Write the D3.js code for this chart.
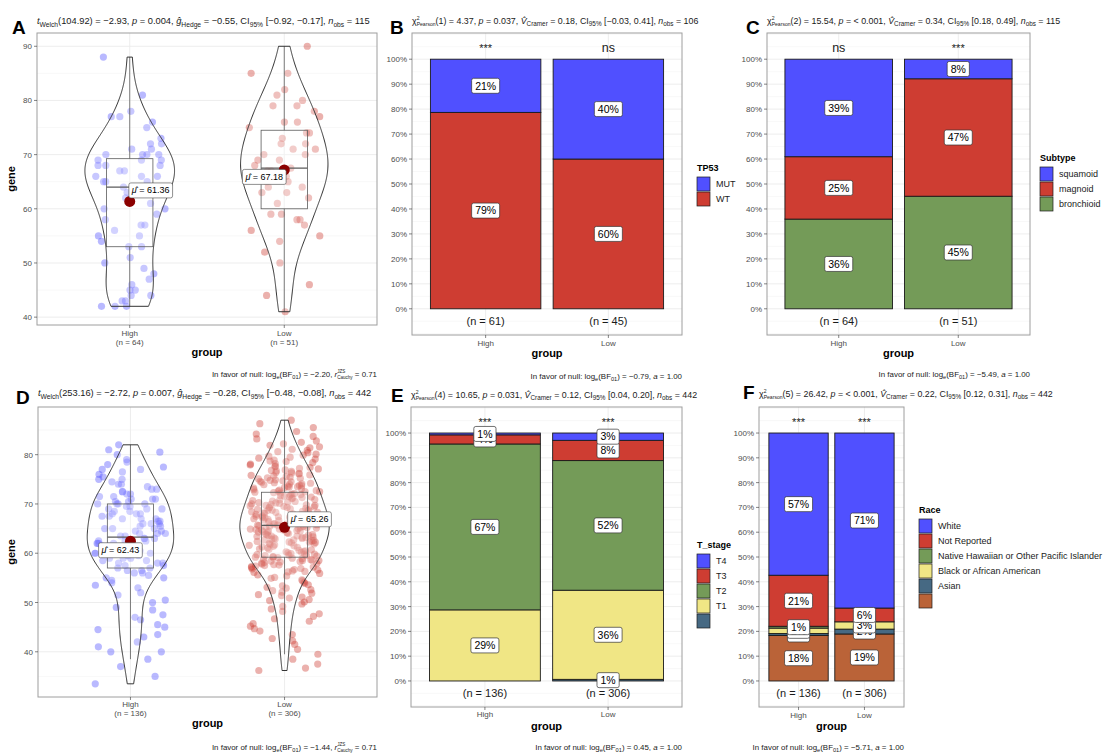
<!DOCTYPE html>
<html>
<head>
<meta charset="utf-8">
<script src="https://cdn.jsdelivr.net/npm/d3@7/dist/d3.min.js"></script>
<style>
  html, body { margin: 0; padding: 0; background: #fff; }
  svg { display: block; }
  text { font-family: "Liberation Sans", Arial, Helvetica, sans-serif; white-space: pre; }
</style>
</head>
<body>
<svg id="fig" width="1104" height="753"></svg>
<script>
// ---------------- data ----------------
const groups = ["High", "Low"];

// gene expression per group, cohort 1 (panel A)
const exprA_High = [42,42,42,43,43,44,44,45,45,46,47,48,49,50,51,53,
  53,54,55,55,56,57,57,58,59,60,60,61,62,63,63,64,
  64,64,65,65,65,66,66,66,67,67,68,68,68,69,69,69,
  70,70,70,70,71,71,72,72,73,75,76,77,77,78,81,88];
const exprA_Low = [41,44,46,50,52,54,55,56,57,58,58,59,59,
  61,62,63,63,64,64,65,65,66,66,67,67,67.5,
  68,69,69,70,70,71,71,72,72,73,74,74,75,
  76,76,77,78,79,79,80,81,82,85,85,90];

// gene expression per group, cohort 2 (panel D)
const exprD_High = [33.5,35,37,38.5,40,40,41,42,43,43.5,44.5,45,45.5,46.5,47,47.5,48.5,49,50,50.5,51.5,52,53,53.5,54,54.5,55,55,55.5,56,56,56.5,56.5,57,
  57,57.5,57.5,58,58,58,58.5,58.5,59,59,59,59.5,59.5,60,60,60,60.5,60.5,61,61,61,61.5,61.5,61.5,62,62,62,62,62.5,62.5,62.5,63,63,63,
  63.5,63.5,64,64,64,64.5,64.5,65,65,65,65.5,65.5,66,66,66,66.5,66.5,67,67,67,67.5,67.5,68,68,68,68.5,68.5,69,69,69,69.5,69.5,70,70,
  70,70,70.5,70.5,71,71,71,71.5,71.5,72,72,72.5,72.5,73,73,73.5,74,74,74.5,75,75,75.5,76,76.5,77,77,77.5,78,78.5,79,80,80.5,81,82];
const exprD_Low = [36.2,36.7,37.5,38.5,39.5,40.5,41.5,42.2,42.7,43.5,44.2,44.7,45.2,45.7,46.2,46.7,47.2,47.7,48.2,48.7,49.2,49.7,
  50.1,50.4,50.6,50.9,51.1,51.4,51.6,51.9,52.1,52.4,52.6,52.9,53.1,53.4,53.6,53.9,54.1,54.4,54.6,54.9,55.1,55.4,55.6,55.9,
  56.1,56.2,56.3,56.4,56.6,56.7,56.8,56.9,
  57.1,57.2,57.3,57.4,57.5,57.6,57.7,57.8,57.9,
  58.0,58.1,58.2,58.3,58.4,58.5,58.5,58.6,58.7,58.8,58.9,
  59.0,59.1,59.2,59.2,59.3,59.4,59.5,59.5,59.6,59.7,59.8,59.8,59.9,
  60.1,60.2,60.3,60.4,60.5,60.6,60.7,60.8,60.9,
  61.1,61.2,61.3,61.4,61.5,61.6,61.7,61.8,61.9,
  62.0,62.1,62.2,62.3,62.3,62.4,62.5,62.6,62.7,62.7,62.8,62.9,
  63.0,63.1,63.2,63.2,63.3,63.4,63.5,63.5,63.6,63.7,63.8,63.8,63.9,
  64.0,64.1,64.2,64.2,64.3,64.4,64.5,64.5,64.6,64.7,64.7,64.8,64.9,64.9,
  65.0,65.1,65.2,65.2,65.3,65.4,65.5,65.5,65.6,65.7,65.7,65.8,65.9,65.9,
  66.0,66.1,66.2,66.3,66.3,66.4,66.5,66.6,66.7,66.7,66.8,66.9,
  67.0,67.1,67.2,67.3,67.3,67.4,67.5,67.6,67.7,67.7,67.8,67.9,
  68.0,68.1,68.2,68.3,68.3,68.4,68.5,68.6,68.7,68.7,68.8,68.9,
  69.0,69.1,69.2,69.3,69.3,69.4,69.5,69.6,69.7,69.7,69.8,69.9,
  70.0,70.1,70.2,70.3,70.4,70.5,70.6,70.7,70.8,70.9,
  71.1,71.2,71.3,71.4,71.5,71.6,71.7,71.8,71.9,
  72.0,72.1,72.2,72.3,72.4,72.5,72.5,72.6,72.7,72.8,72.9,
  73.1,73.2,73.3,73.4,73.5,73.6,73.7,73.8,73.9,
  74.0,74.1,74.2,74.3,74.4,74.5,74.6,74.7,74.8,74.9,
  75.1,75.2,75.3,75.4,75.6,75.7,75.8,75.9,
  76.1,76.2,76.3,76.4,76.6,76.7,76.8,76.9,
  77.1,77.2,77.4,77.6,77.7,77.9,
  78.1,78.2,78.4,78.6,78.7,78.9,
  79.1,79.3,79.5,79.7,79.9,
  80.1,80.4,80.6,80.9,
  81.1,81.4,81.6,81.9,
  82.2,82.5,82.8,
  83.2,83.7,
  84.2,84.7,
  85.5,86.3,87.0];

const meansA = [61.36, 67.18];
const meansD = [62.43, 65.26];

// counts per group, levels listed top of stack first
const tp53Levels = ["MUT", "WT"];
const tp53High = [13, 48];
const tp53Low = [18, 27];

const subtypeLevels = ["squamoid", "magnoid", "bronchioid"];
const subtypeHigh = [25, 16, 23];
const subtypeLow = [4, 24, 23];

const tstageLevels = ["T4", "T3", "T2", "T1", ""];
const tstageHigh = [1, 5, 91, 39, 0];
const tstageLow = [9, 25, 160, 110, 2];

const raceLevels = ["White", "Not Reported", "Native Hawaiian or Other Pacific Islander", "Black or African American", "Asian", ""];
const raceHigh = [78, 28, 1, 3, 1, 25];
const raceLow = [216, 17, 0, 9, 6, 58];

const sigB = ["***", "ns"];
const sigC = ["ns", "***"];
const sigE = ["***", "***"];
const sigF = ["***", "***"];

const palette = ["#5050FF", "#CE3D32", "#749B58", "#F0E685", "#466983", "#BA6338"];

// statistical subtitles and captions: [text, style]
const subA = [["t","i"],["Welch","sub"],["(104.92) = −2.93, "],["p","i"],[" = 0.004, "],["ĝ","i"],["Hedge","sub"],[" = −0.55, CI"],["95%","sub"],[" [−0.92, −0.17], "],["n","i"],["obs","sub"],[" = 115"]];
const subD = [["t","i"],["Welch","sub"],["(253.16) = −2.72, "],["p","i"],[" = 0.007, "],["ĝ","i"],["Hedge","sub"],[" = −0.28, CI"],["95%","sub"],[" [−0.48, −0.08], "],["n","i"],["obs","sub"],[" = 442"]];
function chiSub(df, stat, p, v, ci, n) {
  return [["χ"],[["2","Pearson"],"stack"],[`(${df}) = ${stat}, `],["p","i"],[` = ${p}, `],["V\u0302","i"],["Cramer","sub"],[` = ${v}, CI`],["95%","sub"],[` ${ci}, `],["n","i"],["obs","sub"],[` = ${n}`]];
}
const subB = chiSub(1, "4.37", "0.037", "0.18", "[−0.03, 0.41]", 106);
const subC = chiSub(2, "15.54", "< 0.001", "0.34", "[0.18, 0.49]", 115);
const subE = chiSub(4, "10.65", "0.031", "0.12", "[0.04, 0.20]", 442);
const subF = chiSub(5, "26.42", "< 0.001", "0.22", "[0.12, 0.31]", 442);
function bfCap(bf, tail) {
  const head = [["In favor of null: log"],["e","sub"],["(BF"],["01","sub"],[`) = ${bf}, `]];
  return tail === "r" ? head.concat([["r","i"],[["JZS","Cauchy"],"stack"],[" = 0.71"]])
                      : head.concat([["a","i"],[" = 1.00"]]);
}
const capA = bfCap("−2.20", "r"), capB = bfCap("−0.79", "a"), capC = bfCap("−5.49", "a");
const capD = bfCap("−1.44", "r"), capE = bfCap("0.45", "a"), capF = bfCap("−5.71", "a");

// ---------------- layout ----------------
const layout = {
  A: {x0: 37,  x1: 377,  y0: 33,  y1: 325, letter: [12, 34],  titleY: 24,  titleSize: 9.3,  capY: 377, tickY: 336, axisY: 356},
  B: {x0: 412, x1: 682,  y0: 33,  y1: 335, letter: [390, 34], titleY: 24,  titleSize: 8.85, capY: 379, tickY: 346, axisY: 357},
  C: {x0: 767, x1: 1030, y0: 33,  y1: 335, letter: [746, 34], titleY: 24,  titleSize: 8.85, capY: 377, tickY: 346, axisY: 357},
  D: {x0: 38,  x1: 377,  y0: 407, y1: 697, letter: [16, 404], titleY: 396, titleSize: 9.3,  capY: 750, tickY: 707, axisY: 727},
  E: {x0: 411, x1: 682,  y0: 407, y1: 707, letter: [391, 402], titleY: 398, titleSize: 8.85, capY: 750, tickY: 717, axisY: 730},
  F: {x0: 759, x1: 904,  y0: 407, y1: 707, letter: [743, 399], titleY: 397, titleSize: 8.85, capY: 750, tickY: 718, axisY: 730}
};

const svg = d3.select("#fig");
svg.append("rect").attr("width", 1104).attr("height", 753).attr("fill", "#fff");

const GRID_MAJOR = "#EBEBEB", GRID_MINOR = "#F4F4F4", BORDER = "#9E9E9E", TICK_TXT = "#4D4D4D";

// ---------------- helpers ----------------
function richText(parent, x, y, segs, size, anchor = "start", fill = "#1A1A1A") {
  const g = parent.append("g");
  let cx = 0;
  const small = size * 0.72;
  segs.forEach(([t, kind]) => {
    if (kind === "stack") {
      const a = g.append("text").attr("xml:space", "preserve").attr("x", cx).attr("y", y - size * 0.45)
        .attr("font-size", small * 0.8).attr("fill", fill).text(t[0]);
      const b = g.append("text").attr("xml:space", "preserve").attr("x", cx).attr("y", y + size * 0.25)
        .attr("font-size", small * 0.8).attr("fill", fill).text(t[1]);
      cx += Math.max(a.node().getComputedTextLength(), b.node().getComputedTextLength());
      return;
    }
    const el = g.append("text").attr("xml:space", "preserve").attr("x", cx).attr("fill", fill);
    if (kind === "sub") el.attr("y", y + size * 0.28).attr("font-size", small);
    else if (kind === "sup") el.attr("y", y - size * 0.4).attr("font-size", small);
    else el.attr("y", y).attr("font-size", size);
    if (kind === "i") el.attr("font-style", "italic");
    el.text(t);
    cx += el.node().getComputedTextLength();
  });
  const dx = anchor === "end" ? x - cx : anchor === "middle" ? x - cx / 2 : x;
  g.attr("transform", `translate(${dx},0)`);
  return cx;
}

function hline(g, x0, x1, y, color, w) {
  g.append("line").attr("x1", x0).attr("x2", x1).attr("y1", y).attr("y2", y).attr("stroke", color).attr("stroke-width", w);
}
function vline(g, x, y0, y1, color, w) {
  g.append("line").attr("x1", x).attr("x2", x).attr("y1", y0).attr("y2", y1).attr("stroke", color).attr("stroke-width", w);
}

// deterministic horizontal spread of points inside each group
function spread(i, seed) {
  let h = Math.imul(i + 1, 0x9E3779B1) ^ Math.imul(seed + 7, 0x85EBCA77);
  h ^= h >>> 15; h = Math.imul(h, 0x2C1B3C6D);
  h ^= h >>> 12; h = Math.imul(h, 0x297A2D39);
  h ^= h >>> 15;
  return (h >>> 0) / 4294967296 - 0.5;
}

function bwNrd0(v) {
  const s = v.slice().sort(d3.ascending);
  const sd = d3.deviation(s);
  const iqr = d3.quantileSorted(s, 0.75) - d3.quantileSorted(s, 0.25);
  const lo = Math.min(sd, iqr / 1.34);
  return 0.9 * lo * Math.pow(s.length, -0.2);
}
function density(v, bw, lo, hi, n = 256) {
  const c = 1 / (v.length * bw * Math.sqrt(2 * Math.PI));
  return d3.range(n).map(k => {
    const y = lo + (hi - lo) * k / (n - 1);
    let s = 0;
    for (const x of v) { const z = (y - x) / bw; s += Math.exp(-0.5 * z * z); }
    return [y, s * c];
  });
}

function panelFrame(key, letter, sub, cap) {
  const p = layout[key];
  svg.append("text").attr("x", p.letter[0]).attr("y", p.letter[1])
    .attr("font-family", "'Liberation Serif', 'Times New Roman', serif").attr("font-weight", "bold")
    .attr("font-size", 19).attr("fill", "#000").text(letter);
  richText(svg, p.x0, p.titleY, sub, p.titleSize, "start");
  richText(svg, p.x1, p.capY, cap, 7.9, "end");
  svg.append("text").attr("x", (p.x0 + p.x1) / 2).attr("y", p.axisY).attr("text-anchor", "middle")
    .attr("font-size", 11).attr("font-weight", "bold").attr("fill", "#000").text("group");
}

function border(p) {
  svg.append("rect").attr("x", p.x0).attr("y", p.y0).attr("width", p.x1 - p.x0).attr("height", p.y1 - p.y0)
    .attr("fill", "none").attr("stroke", BORDER).attr("stroke-width", 1);
}

// ---------------- violin panels ----------------
function violinPanel(key, series, means, labelShift) {
  const p = layout[key];
  const g = svg.append("g");
  const all = series.flat();
  const [mn, mx] = d3.extent(all);
  const pad = (mx - mn) * 0.05;
  const y = d3.scaleLinear().domain([mn - pad, mx + pad]).range([p.y1, p.y0]);
  const x = d3.scaleLinear().domain([0.4, 2.6]).range([p.x0, p.x1]);
  const unit = x(2) - x(1);
  const [d0, d1] = y.domain();
  const majors = d3.range(Math.ceil(d0 / 10) * 10, d1, 10);
  const minors = d3.range(Math.ceil((d0 - 5) / 10) * 10 + 5, d1, 10).filter(v => v > d0);

  minors.forEach(v => hline(g, p.x0, p.x1, y(v), GRID_MINOR, 0.6));
  majors.forEach(v => hline(g, p.x0, p.x1, y(v), GRID_MAJOR, 0.9));
  groups.forEach((_, i) => vline(g, x(i + 1), p.y0, p.y1, GRID_MAJOR, 0.9));

  // jittered points
  series.forEach((vals, gi) => {
    g.append("g").selectAll("circle").data(vals).join("circle")
      .attr("cx", (d, i) => x(gi + 1) + spread(i, gi * 31 + key.charCodeAt(0)) * 0.46 * unit)
      .attr("cy", d => y(d))
      .attr("r", 3.6)
      .attr("fill", palette[gi]).attr("fill-opacity", 0.4);
  });

  // densities (area scaling across groups)
  const dens = series.map(v => {
    const e = d3.extent(v);
    return density(v, bwNrd0(v), e[0], e[1]);
  });
  const dmax = d3.max(dens.flat(), d => d[1]);
  const halfW = 0.29 * unit;

  series.forEach((vals, gi) => {
    const cx = x(gi + 1);
    const s = vals.slice().sort(d3.ascending);
    const q1 = d3.quantileSorted(s, 0.25), q2 = d3.quantileSorted(s, 0.5), q3 = d3.quantileSorted(s, 0.75);
    const iqr = q3 - q1;
    const wLo = d3.min(s.filter(v => v >= q1 - 1.5 * iqr));
    const wHi = d3.max(s.filter(v => v <= q3 + 1.5 * iqr));
    const bw = 0.15 * unit;
    vline(g, cx, y(q3), y(wHi), "#333", 0.8);
    vline(g, cx, y(q1), y(wLo), "#333", 0.8);
    g.append("rect").attr("x", cx - bw).attr("width", 2 * bw).attr("y", y(q3)).attr("height", y(q1) - y(q3))
      .attr("fill", "#fff").attr("fill-opacity", 0.2).attr("stroke", "#333").attr("stroke-width", 0.8);
    hline(g, cx - bw, cx + bw, y(q2), "#333", 1.3);

    const area = d3.area()
      .y(d => y(d[0]))
      .x0(d => cx - d[1] / dmax * halfW)
      .x1(d => cx + d[1] / dmax * halfW);
    g.append("path").attr("d", area(dens[gi]))
      .attr("fill", "#fff").attr("fill-opacity", 0.2).attr("stroke", "#333").attr("stroke-width", 1);
  });

  // means with labels
  means.forEach((m, gi) => {
    const cx = x(gi + 1), cy = y(m);
    g.append("circle").attr("cx", cx).attr("cy", cy).attr("r", 5.5).attr("fill", "#8B0000");
    const lx = cx + labelShift[gi][0], ly = cy + labelShift[gi][1];
    const lg = g.append("g");
    const box = lg.append("rect");
    const w = richText(lg, lx, ly + 3, [["μ\u0302","i"],[` = ${m.toFixed(2)}`]], 9, "middle", "#000");
    box.attr("x", lx - w / 2 - 3).attr("y", ly - 7.5).attr("width", w + 6).attr("height", 15)
      .attr("rx", 2).attr("fill", "#fff").attr("stroke", "#444").attr("stroke-width", 0.6);
  });

  border(p);

  // axes
  majors.forEach(v => {
    hline(svg, p.x0 - 3, p.x0, y(v), "#333", 0.6);
    svg.append("text").attr("x", p.x0 - 5).attr("y", y(v) + 3).attr("text-anchor", "end")
      .attr("font-size", 8).attr("fill", TICK_TXT).text(v);
  });
  groups.forEach((gname, i) => {
    vline(svg, x(i + 1), p.y1, p.y1 + 3, "#333", 0.6);
    svg.append("text").attr("x", x(i + 1)).attr("y", p.tickY).attr("text-anchor", "middle")
      .attr("font-size", 8).attr("fill", TICK_TXT).text(gname);
    svg.append("text").attr("x", x(i + 1)).attr("y", p.tickY + 9).attr("text-anchor", "middle")
      .attr("font-size", 8).attr("fill", TICK_TXT).text(`(n = ${series[i].length})`);
  });
  svg.append("text").attr("transform", `translate(15,${(p.y0 + p.y1) / 2}) rotate(-90)`)
    .attr("text-anchor", "middle").attr("font-size", 11).attr("font-weight", "bold").attr("fill", "#000").text("gene");
}

// ---------------- stacked percentage bar panels ----------------
function barPanel(key, levels, counts, sig, legendTitle, legendPos) {
  const p = layout[key];
  const g = svg.append("g");
  const y = d3.scaleLinear().domain([-0.105, 1.105]).range([p.y1, p.y0]);
  const x = d3.scaleLinear().domain([0.4, 2.6]).range([p.x0, p.x1]);
  const unit = x(2) - x(1);

  const steps = d3.range(-2, 23).map(k => k * 0.05);
  steps.forEach((v, k) => {
    const isMajor = v > -0.001 && v < 1.001 && (k % 2 === 0);
    if (!isMajor) hline(g, p.x0, p.x1, y(v), GRID_MINOR, 0.6);
  });
  d3.range(0, 11).forEach(k => hline(g, p.x0, p.x1, y(k / 10), GRID_MAJOR, 0.9));
  groups.forEach((_, i) => vline(g, x(i + 1), p.y0, p.y1, GRID_MAJOR, 0.9));

  const half = 0.45 * unit;
  const labelJobs = [];
  counts.forEach((cs, gi) => {
    const n = d3.sum(cs);
    const cx = x(gi + 1);
    let cum = 0;
    for (let k = levels.length - 1; k >= 0; k--) {
      if (cs[k] === 0) continue;
      const f0 = cum / n; cum += cs[k]; const f1 = cum / n;
      g.append("rect").attr("x", cx - half).attr("width", 2 * half)
        .attr("y", y(f1)).attr("height", y(f0) - y(f1))
        .attr("fill", palette[k]).attr("stroke", "#1A1A1A").attr("stroke-width", 0.9);
      labelJobs.push({cx, f: (f0 + f1) / 2, txt: `${Math.round(cs[k] / n * 100)}%`});
    }
    g.append("text").attr("x", cx).attr("y", y(-0.05) + 4).attr("text-anchor", "middle")
      .attr("font-size", 11).attr("fill", "#1A1A1A").text(`(n = ${n})`);
    g.append("text").attr("x", cx).attr("y", y(1.05) + 5).attr("text-anchor", "middle")
      .attr("font-size", sig[gi] === "ns" ? 12.5 : 11).attr("fill", "#1A1A1A").text(sig[gi]);
  });

  labelJobs.forEach(j => {
    const lg = g.append("g");
    const box = lg.append("rect");
    const t = lg.append("text").attr("x", j.cx).attr("y", y(j.f) + 3.8).attr("text-anchor", "middle")
      .attr("font-size", 10.5).attr("fill", "#000").text(j.txt);
    const w = t.node().getComputedTextLength();
    box.attr("x", j.cx - w / 2 - 3.5).attr("y", y(j.f) - 7.5).attr("width", w + 7).attr("height", 15)
      .attr("rx", 2).attr("fill", "#fff").attr("stroke", "#333").attr("stroke-width", 0.7);
  });

  border(p);

  d3.range(0, 11).forEach(k => {
    const v = k / 10;
    hline(svg, p.x0 - 3, p.x0, y(v), "#333", 0.6);
    svg.append("text").attr("x", p.x0 - 5).attr("y", y(v) + 3).attr("text-anchor", "end")
      .attr("font-size", 8).attr("fill", TICK_TXT).text(`${k * 10}%`);
  });
  groups.forEach((gname, i) => {
    vline(svg, x(i + 1), p.y1, p.y1 + 3, "#333", 0.6);
    svg.append("text").attr("x", x(i + 1)).attr("y", p.tickY).attr("text-anchor", "middle")
      .attr("font-size", 8).attr("fill", TICK_TXT).text(gname);
  });

  // legend
  const [lx, ly] = legendPos;
  svg.append("text").attr("x", lx).attr("y", ly + 3.3).attr("font-size", 9).attr("font-weight", "bold")
    .attr("fill", "#000").text(legendTitle);
  levels.forEach((lab, k) => {
    const cy = ly + 16 + 15 * k;
    svg.append("rect").attr("x", lx).attr("y", cy - 7).attr("width", 13).attr("height", 14)
      .attr("fill", palette[k]).attr("stroke", "#1A1A1A").attr("stroke-width", 0.7);
    svg.append("text").attr("x", lx + 19).attr("y", cy + 3.2).attr("font-size", 9).attr("fill", "#1A1A1A").text(lab);
  });
}

// ---------------- draw ----------------
violinPanel("A", [exprA_High, exprA_Low], meansA, [[21, -11], [-20, 7]]);
panelFrame("A", "A", subA, capA);

barPanel("B", tp53Levels, [tp53High, tp53Low], sigB, "TP53", [697, 168]);
panelFrame("B", "B", subB, capB);

barPanel("C", subtypeLevels, [subtypeHigh, subtypeLow], sigC, "Subtype", [1040, 158]);
panelFrame("C", "C", subC, capC);

violinPanel("D", [exprD_High, exprD_Low], meansD, [[-10, 9], [25, -8]]);
panelFrame("D", "D", subD, capD);

barPanel("E", tstageLevels, [tstageHigh, tstageLow], sigE, "T_stage", [697, 545]);
panelFrame("E", "E", subE, capE);

barPanel("F", raceLevels, [raceHigh, raceLow], sigF, "Race", [919, 510]);
panelFrame("F", "F", subF, capF);
</script>
</body>
</html>
